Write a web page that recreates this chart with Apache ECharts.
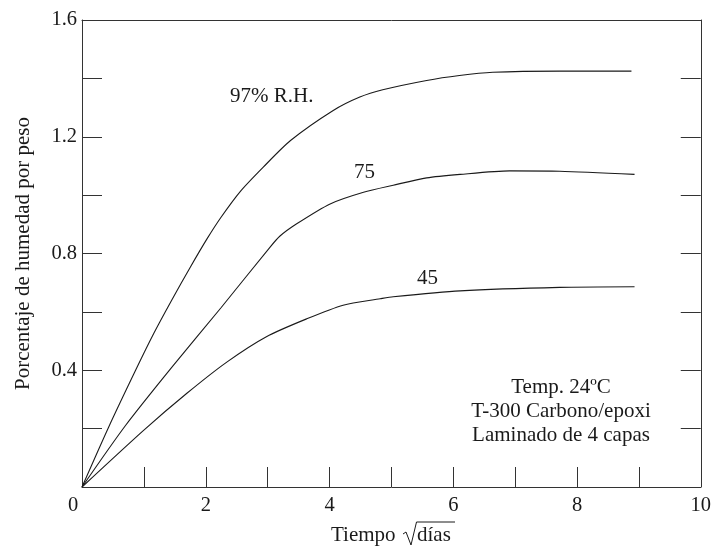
<!DOCTYPE html>
<html>
<head>
<meta charset="utf-8">
<script src="https://cdn.jsdelivr.net/npm/echarts@6/dist/echarts.min.js"></script>
<style>html,body{margin:0;padding:0;background:#fff}#c{width:714px;height:548px}</style>
</head>
<body>
<div id="c"></div>
<script>
// Data (x = sqrt(days), y = % moisture by weight)
var x97 = [0, 0.43, 0.866, 1.157, 1.447, 1.75, 2.02, 2.25, 2.56, 2.93, 3.37, 4.06, 4.49, 4.86, 5.57, 6.1, 6.64, 7.72, 8.88];
var y97 = [0, 0.205, 0.40, 0.525, 0.639, 0.753, 0.85, 0.925, 1.013, 1.096, 1.187, 1.29, 1.336, 1.361, 1.393, 1.41, 1.421, 1.425, 1.425];
var x75 = [0, 0.7, 1.45, 2.25, 3.04, 3.2, 3.47, 4.01, 4.55, 5.03, 5.57, 6.11, 6.91, 7.72, 8.93];
var y75 = [0, 0.21, 0.41, 0.615, 0.822, 0.86, 0.902, 0.970, 1.010, 1.034, 1.059, 1.071, 1.083, 1.082, 1.071];
var x45 = [0, 1.0, 1.7, 2.34, 2.98, 3.63, 4.22, 4.82, 5.03, 6.11, 7.72, 8.93];
var y45 = [0, 0.195, 0.322, 0.428, 0.515, 0.576, 0.623, 0.645, 0.652, 0.672, 0.684, 0.686];
var curveLabels = ['97% R.H.', '75', '45'];
var xTickLabels = ['0', '2', '4', '6', '8', '10'];
var yTickLabels = ['0.4', '0.8', '1.2', '1.6'];
var noteLines = ['Temp. 24ºC', 'T-300 Carbono/epoxi', 'Laminado de 4 capas'];

function pairs(xs, ys) { return xs.map(function (x, i) { return [x, ys[i]]; }); }

var FONT = 'Liberation Serif';
var INK = '#1a1a1a';
var AX = '#333';
var TF = '21px "' + FONT + '"';

var chart = echarts.init(document.getElementById('c'), null, {renderer: 'canvas'});

function lineSeries(name, xs, ys) {
  return {
    name: name, type: 'line', data: pairs(xs, ys), showSymbol: false, symbol: 'none',
    smooth: 0.25,
    lineStyle: {color: INK, width: 1.1}, silent: true, animation: false
  };
}

chart.setOption({
  animation: false,
  backgroundColor: '#fff',
  grid: {left: 82, right: 13, top: 20, bottom: 61},
  xAxis: [{
    type: 'value', min: 0, max: 10, interval: 1, position: 'bottom',
    axisLine: {show: true, onZero: false, lineStyle: {color: AX, width: 1}},
    axisTick: {show: true, inside: true, length: 20, lineStyle: {color: AX, width: 1}},
    splitLine: {show: false},
    axisLabel: {
      margin: 8, color: INK, fontFamily: FONT, fontSize: 20.5,
      formatter: function (v) {
        var s = String(Math.round(v));
        if (xTickLabels.indexOf(s) < 0) return '';
        if (s === '0') return '{z|0}';
        return s;
      },
      rich: {z: {fontFamily: FONT, fontSize: 20.5, color: INK, padding: [0, 18, 0, 0]}}
    }
  }, {
    type: 'value', min: 0, max: 10, position: 'top',
    axisLine: {show: true, onZero: false, lineStyle: {color: AX, width: 1}},
    axisTick: {show: false}, axisLabel: {show: false}, splitLine: {show: false}
  }],
  yAxis: [{
    type: 'value', min: 0, max: 1.6, interval: 0.2, position: 'left',
    axisLine: {show: true, onZero: false, lineStyle: {color: AX, width: 1}},
    axisTick: {show: true, inside: true, length: 20, lineStyle: {color: AX, width: 1}},
    splitLine: {show: false},
    axisLabel: {
      margin: 5, color: INK, fontFamily: FONT, fontSize: 20.5,
      formatter: function (v) {
        var s = v.toFixed(1);
        return yTickLabels.indexOf(s) >= 0 ? s : '';
      }
    },
    name: 'Porcentaje de humedad por peso', nameLocation: 'middle', nameGap: 48,
    nameTextStyle: {fontFamily: FONT, fontSize: 21, color: INK}
  }, {
    type: 'value', min: 0, max: 1.6, interval: 0.2, position: 'right',
    axisLine: {show: true, onZero: false, lineStyle: {color: AX, width: 1}},
    axisTick: {show: true, inside: true, length: 20, lineStyle: {color: AX, width: 1}},
    axisLabel: {show: false}, splitLine: {show: false}
  }],
  series: [
    lineSeries('97', x97, y97),
    lineSeries('75', x75, y75),
    lineSeries('45', x45, y45)
  ],
  graphic: [
    {type: 'text', left: 230, top: 86, style: {text: curveLabels[0], font: TF, fill: INK}},
    {type: 'text', left: 354, top: 162, style: {text: curveLabels[1], font: TF, fill: INK}},
    {type: 'text', left: 417, top: 268, style: {text: curveLabels[2], font: TF, fill: INK}},
    {type: 'text', x: 561, y: 376, style: {text: noteLines.join('\n'), font: TF, fill: INK, align: 'center', verticalAlign: 'top', lineHeight: 23.7}},
    {type: 'text', x: 331, y: 525, style: {text: 'Tiempo', font: TF, fill: INK, align: 'left', verticalAlign: 'top'}},
    {type: 'text', x: 417, y: 525, style: {text: 'días', font: TF, fill: INK, align: 'left', verticalAlign: 'top'}},
    {type: 'polyline', shape: {points: [[403, 534], [406, 532], [411, 545], [416.5, 522], [455, 522]]}, style: {stroke: INK, lineWidth: 1, fill: null}}
  ]
});
</script>
</body>
</html>
